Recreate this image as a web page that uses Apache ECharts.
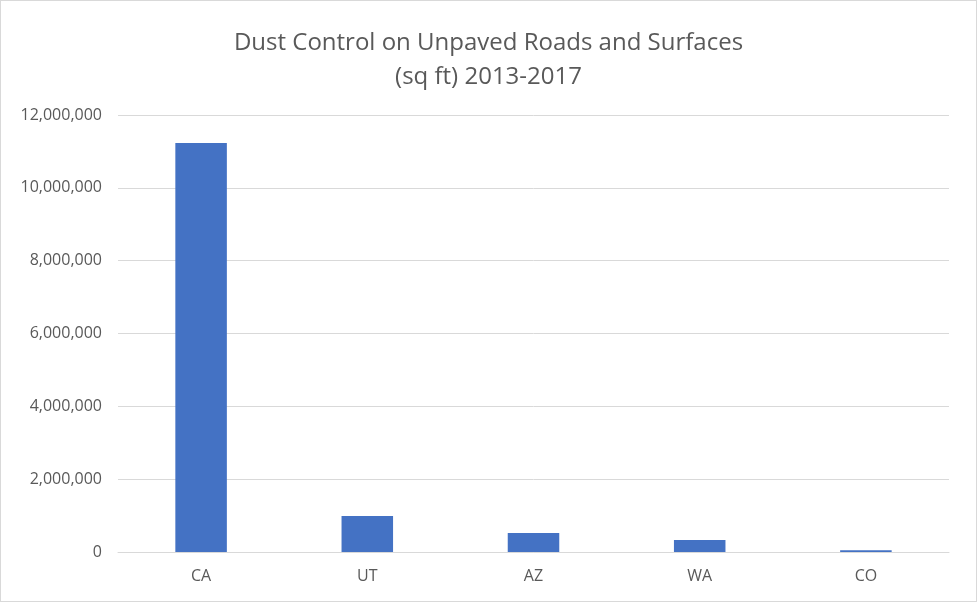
<!DOCTYPE html>
<html><head><meta charset="utf-8">
<script src="https://cdn.jsdelivr.net/npm/echarts@6/dist/echarts.min.js"></script>
<style>html,body{margin:0;padding:0;background:#fff}#c{width:977px;height:602px;box-sizing:border-box;border:1px solid #d9d9d9}</style>
</head><body><div id="c"></div>
<script>
const categories = ["CA","UT","AZ","WA","CO"];
const values = [11230000, 990000, 520000, 330000, 50000];
const chart = echarts.init(document.getElementById('c'));
chart.setOption({
  animation:false,
  title:{text:"Dust Control on Unpaved Roads and Surfaces\n(sq ft) 2013-2017",left:'center',top:20,
    textStyle:{fontFamily:'Open Sans',fontWeight:'normal',fontSize:24,color:'#595959',lineHeight:34}},
  grid:{left:117,right:27,top:114,bottom:49},
  xAxis:{type:'category',data:categories,axisTick:{show:false},
    axisLine:{lineStyle:{color:'#d9d9d9'}},
    axisLabel:{color:'#595959',fontSize:16,fontFamily:'Open Sans',margin:16}},
  yAxis:{type:'value',min:0,max:12000000,interval:2000000,
    splitLine:{lineStyle:{color:'#d9d9d9'}},
    axisLabel:{color:'#595959',fontSize:16,fontFamily:'Open Sans',margin:16,
      formatter:v=>v.toLocaleString('en-US')}},
  series:[{type:'bar',data:values,barWidth:'31%',itemStyle:{color:'#4472c4'}}]
});
</script></body></html>
